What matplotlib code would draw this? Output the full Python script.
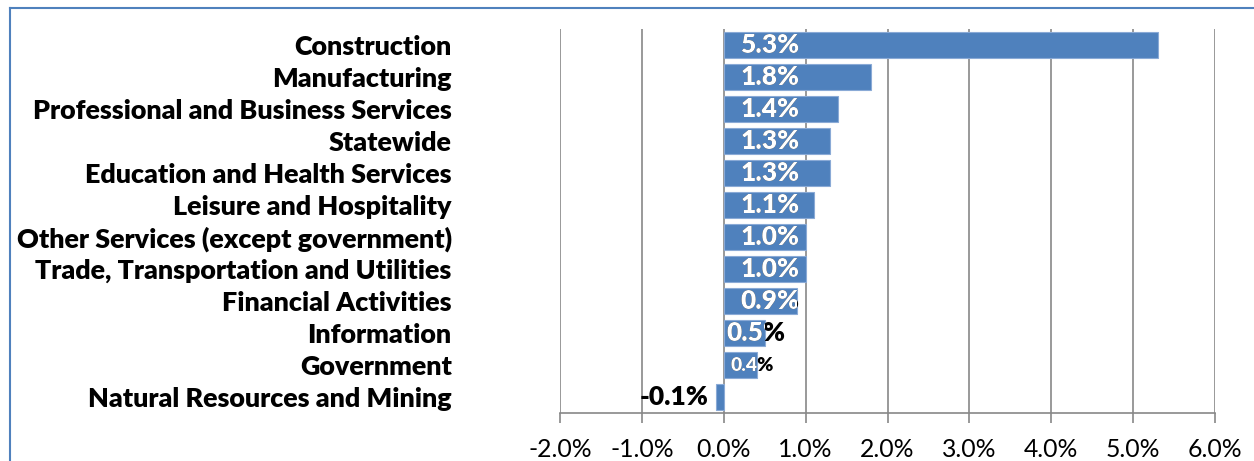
import matplotlib.pyplot as plt
from matplotlib.lines import Line2D

# Data (percent change), top to bottom as in the chart
industries = ['Construction', 'Manufacturing', 'Professional and Business Services',
              'Statewide', 'Education and Health Services', 'Leisure and Hospitality',
              'Other Services (except government)', 'Trade, Transportation and Utilities',
              'Financial Activities', 'Information', 'Government',
              'Natural Resources and Mining']
change = [5.3, 1.8, 1.4, 1.3, 1.3, 1.1, 1.0, 1.0, 0.9, 0.5, 0.4, -0.1]
xticks = [-2, -1, 0, 1, 2, 3, 4, 5, 6]

bar_color = '#4F81BD'
grid_color = '#878787'

plt.rcParams['font.family'] = ['Lato', 'DejaVu Sans']

fig = plt.figure(figsize=(12.54, 4.61), dpi=100)
ax = fig.add_axes([560 / 1254, 1 - 413 / 461, 655 / 1254, 384 / 461])

ypos = list(range(len(industries)))
bars = ax.barh(ypos, change, height=0.8, color=bar_color,
               edgecolor='#8AAAD6', linewidth=0.8, zorder=3)

ax.set_ylim(len(industries) - 0.5, -0.5)
ax.set_xlim(-2, 6)
ax.set_xticks(xticks)
ax.set_xticklabels(['%.1f%%' % v for v in xticks], fontsize=17.8)
ax.set_yticks(ypos)
ax.set_yticklabels(industries, fontsize=19.4, fontweight='heavy')
ax.tick_params(axis='y', length=0, pad=78)
ax.tick_params(axis='x', length=7, color=grid_color, width=1.2, pad=11)

ax.grid(axis='x', color=grid_color, linewidth=1.2, zorder=0)
for side in ['top', 'right', 'left']:
    ax.spines[side].set_visible(False)
ax.spines['bottom'].set_color(grid_color)
ax.spines['bottom'].set_linewidth(1.2)

# Data labels: white inside the bar, black where they spill past it
for bar, y, v in zip(bars, ypos, change):
    label = '%.1f%%' % v
    if v < 0:
        ax.annotate(label, (v, y), xytext=(-5, 0), textcoords='offset points',
                    ha='right', va='center', fontsize=19, fontweight='heavy', color='black')
        continue
    size = 14 if v < 0.45 else 19
    dx = 12 if v > 0.8 else (5 if v < 0.45 else 2)
    ax.annotate(label, (0, y), xytext=(dx, 0), textcoords='offset points',
                ha='left', va='center', fontsize=size, fontweight='heavy',
                color='black', zorder=4)
    t = ax.annotate(label, (0, y), xytext=(dx, 0), textcoords='offset points',
                    ha='left', va='center', fontsize=size, fontweight='heavy',
                    color='white', zorder=5)
    t.set_clip_path(bar)

# Chart frame (left and top edges visible)
fx = 10 / 1254
fy = 1 - 8 / 461
fig.add_artist(Line2D([fx, fx], [0, fy], color=bar_color, linewidth=1.5))
fig.add_artist(Line2D([fx, 1], [fy, fy], color=bar_color, linewidth=1.5))

fig.savefig('out.png', dpi=100)
